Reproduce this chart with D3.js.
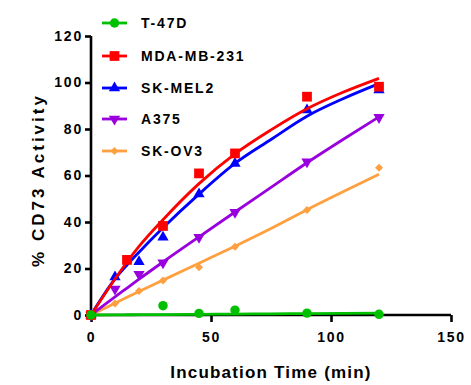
<!DOCTYPE html>
<html><head><meta charset="utf-8">
<script src="https://cdn.jsdelivr.net/npm/d3@7"></script>
<style>body{margin:0;background:#fff}svg{display:block}</style>
</head><body><svg id="c" width="471" height="385"></svg>
<script>
const seriesNames = ["T-47D","MDA-MB-231","SK-MEL2","A375","SK-OV3"];
const seriesColors = ["#00c000","#ff0000","#0000ff","#9900dd","#ffa040"];
const seriesSymbols = ["circle","square","triangle","triangleDown","diamond"];

// measured points
const t47dX = [0,30,45,60,90,120];
const t47dY = [0,4.0,0.7,2.1,0.8,0.3];
const mdaX = [0,15,30,45,60,90,120];
const mdaY = [0,23.7,38.3,60.9,69.5,93.9,98.2];
const skmelX = [0,10,20,30,45,60,90,120];
const skmelY = [0,16.3,22.9,33.4,52.0,65.2,88.2,96.8];
const a375X = [0,10,20,30,45,60,90,120];
const a375Y = [0,11.2,17.5,22.5,33.4,44.2,65.9,85.0];
const skov3X = [0,10,20,30,45,60,90,120];
const skov3Y = [0,5.0,10.3,14.8,20.5,29.4,45.2,63.3];

// fitted curves
const fitX = [0,10,15,20,30,45,60,75,90,105,120];
const t47dFit = [0,0.07,0.1,0.13,0.2,0.3,0.4,0.5,0.6,0.7,0.8];
const mdaFit = [0,15.5,22.8,29.5,41,56.5,69.3,79.6,88.7,95.8,101.8];
const skmelFit = [0,15.5,21.5,27,37.5,52,65.2,75.5,85.5,93,99.5];
const a375Fit = [0,7.8,11.6,15.4,22.8,33.6,44.3,54.9,65.5,75.5,85.2];
const skov3Fit = [0,5.1,7.6,10.1,15,22.3,29.6,37.2,45.3,53,60.5];

const xTicks = [0,50,100,150];
const yTicks = [0,20,40,60,80,100,120];

const pts = [[t47dX,t47dY],[mdaX,mdaY],[skmelX,skmelY],[a375X,a375Y],[skov3X,skov3Y]];
const fits = [t47dFit,mdaFit,skmelFit,a375Fit,skov3Fit];

const svg = d3.select("#c");
const x = d3.scaleLinear().domain([0,150]).range([91,451]);
const y = d3.scaleLinear().domain([0,120]).range([315,36]);
const font = "'Liberation Sans', Arial, sans-serif";

function sym(name, g, cx, cy, color){
  let path, rot = 0;
  if(name==="circle") path = d3.symbol(d3.symbolCircle, 70)();
  else if(name==="square") path = d3.symbol(d3.symbolSquare, 95)();
  else if(name==="triangle") path = d3.symbol(d3.symbolTriangle, 55)();
  else if(name==="triangleDown"){ path = d3.symbol(d3.symbolTriangle, 55)(); rot = 180; }
  else { path = d3.symbol(d3.symbolSquare, 32)(); rot = 45; }
  g.append("path").attr("d", path)
    .attr("transform", `translate(${cx},${cy}) rotate(${rot})`)
    .attr("fill", color);
}

// axes
const yAxis = d3.axisLeft(y).tickValues(yTicks).tickSize(6).tickPadding(4).tickFormat(d3.format("d"));
const xAxis = d3.axisBottom(x).tickValues(xTicks).tickSize(7).tickPadding(10).tickFormat(d3.format("d"));
const gy = svg.append("g").attr("transform","translate(91,0)").call(yAxis);
const gx = svg.append("g").attr("transform","translate(0,315)").call(xAxis);
[gx,gy].forEach(g=>{
  g.select(".domain").attr("stroke","#000").attr("stroke-width",2.6);
  g.selectAll(".tick line").attr("stroke","#000").attr("stroke-width",2.6);
  g.selectAll(".tick text").attr("font-family",font).attr("font-weight","bold")
    .attr("font-size",14).attr("fill","#000").style("letter-spacing","1.8px");
});
gy.select(".domain").attr("d","M0,315V36");
gx.select(".domain").attr("d","M91,0H451");
gy.selectAll(".tick text").attr("dx", 2);

// series: draw in reverse so first series ends on top
const plot = svg.append("g");
for(let i=seriesNames.length-1;i>=0;i--){
  const line = d3.line().x((d,j)=>x(fitX[j])).y(d=>y(d)).curve(d3.curveMonotoneX);
  plot.append("path").attr("d", line(fits[i])).attr("fill","none")
    .attr("stroke", seriesColors[i]).attr("stroke-width",2.8);
  const [px,py] = pts[i];
  px.forEach((xv,j)=> sym(seriesSymbols[i], plot, x(xv), y(py[j]), seriesColors[i]));
}

// legend
const legY = [23,56,88,119,151];
seriesNames.forEach((n,i)=>{
  const g = svg.append("g");
  g.append("line").attr("x1",102).attr("x2",127).attr("y1",legY[i]).attr("y2",legY[i])
    .attr("stroke",seriesColors[i]).attr("stroke-width",2.8);
  sym(seriesSymbols[i], g, 114.5, legY[i], seriesColors[i]);
  g.append("text").attr("x",141).attr("y",legY[i]+5).text(n)
    .attr("font-family",font).attr("font-weight","bold").attr("font-size",14)
    .style("letter-spacing","1.8px").attr("fill","#000");
});

// axis titles
svg.append("text").attr("x",271).attr("y",378).attr("text-anchor","middle")
  .attr("font-family",font).attr("font-weight","bold").attr("font-size",17)
  .style("letter-spacing","1.2px").text("Incubation Time (min)");
svg.append("text").attr("transform","translate(44,180) rotate(-90)").attr("text-anchor","middle")
  .attr("font-family",font).attr("font-weight","bold").attr("font-size",17)
  .style("letter-spacing","3px").text("% CD73 Activity");
</script></body></html>
